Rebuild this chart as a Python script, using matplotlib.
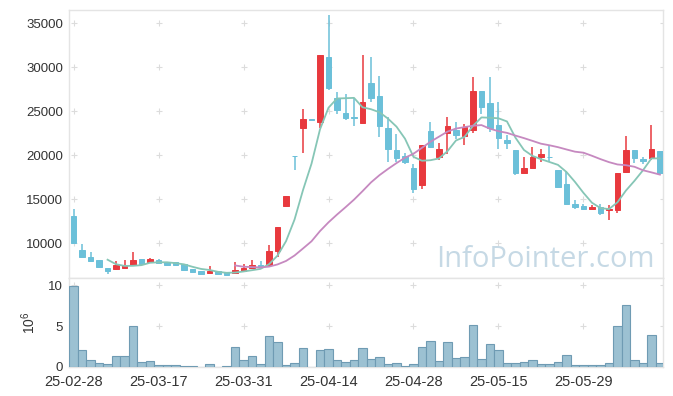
import numpy as np
import pandas as pd
import matplotlib
matplotlib.use("Agg")
import matplotlib.pyplot as plt


# ---------------------------------------------------------------------
# Data (KRW / shares)
# ---------------------------------------------------------------------

dates = [
    "25-02-28", "25-03-04", "25-03-05", "25-03-06", "25-03-07",
    "25-03-10", "25-03-11", "25-03-12", "25-03-13", "25-03-14",
    "25-03-17", "25-03-18", "25-03-19", "25-03-20", "25-03-21",
    "25-03-24", "25-03-25", "25-03-26", "25-03-27", "25-03-28",
    "25-03-31", "25-04-01", "25-04-02", "25-04-03", "25-04-04",
    "25-04-07", "25-04-08", "25-04-09", "25-04-10", "25-04-11",
    "25-04-14", "25-04-15", "25-04-16", "25-04-17", "25-04-18",
    "25-04-21", "25-04-22", "25-04-23", "25-04-24", "25-04-25",
    "25-04-28", "25-04-29", "25-04-30", "25-05-02", "25-05-07",
    "25-05-08", "25-05-09", "25-05-12", "25-05-13", "25-05-14",
    "25-05-15", "25-05-16", "25-05-19", "25-05-20", "25-05-21",
    "25-05-22", "25-05-23", "25-05-26", "25-05-27", "25-05-28",
    "25-05-29", "25-05-30", "25-06-02", "25-06-04", "25-06-05",
    "25-06-09", "25-06-10", "25-06-11", "25-06-12", "25-06-13",
]

open_ = [
    13050, 9200, 8410, 8070, 7130, 7050, 7190, 7500, 8180, 7840,
    8070, 7810, 7840, 7610, 7080, 6850, 6630, 6820, 6710, 6630,
    6820, 7190, 7580, 7500, 9130, 14200, 19900, 23100, 24100, 23800,
    31100, 26450, 24750, 24300, 23650, 28150, 26700, 23050, 20550, 19900,
    18550, 16600, 22750, 19800, 22550, 22850, 22200, 22900, 27250, 25950,
    23400, 21700, 20550, 18030, 18560, 19740, 19780, 18300, 16700, 14510,
    14200, 13900, 14130, 13720, 13750, 18100, 20550, 19550, 19630, 20500,
]
high = [
    13830, 9890, 9010, 8150, 7190, 7960, 8150, 9010, 8240, 8300,
    8200, 7850, 7880, 7650, 7110, 6880, 7390, 6850, 6740, 7810,
    7610, 8150, 7960, 9770, 11820, 15340, 19900, 25300, 24100, 31350,
    35900, 27200, 27000, 26550, 31350, 31100, 28950, 24300, 22400, 20200,
    18950, 21150, 23800, 21350, 24300, 23800, 23500, 28850, 27300, 28850,
    26050, 22250, 20600, 19800, 20950, 20650, 21150, 18300, 18220, 14890,
    14510, 14320, 14510, 14320, 17990, 22150, 20600, 19740, 23400, 20500,
]
low = [
    10050, 8380, 7880, 7190, 6560, 7010, 7160, 7420, 7650, 7800,
    7700, 7420, 7550, 6980, 6750, 6530, 6600, 6530, 6400, 6600,
    6790, 7150, 7280, 7470, 8440, 14200, 18300, 20250, 24050, 23050,
    27400, 24650, 23950, 23300, 23600, 26050, 22100, 19250, 19250, 18950,
    15650, 16200, 20850, 19450, 20100, 21800, 21150, 22550, 24650, 22650,
    20750, 20750, 17800, 18000, 18490, 19240, 19240, 16250, 14400, 13940,
    13750, 13750, 13180, 12610, 13440, 17990, 19060, 18980, 19430, 17950,
]
close = [
    10080, 8440, 7990, 7310, 6820, 7500, 7470, 8070, 7690, 8180,
    7760, 7470, 7580, 7010, 6780, 6560, 6850, 6560, 6440, 6930,
    7160, 7580, 7310, 9090, 11820, 15340, 19850, 24100, 24050, 31350,
    27600, 25100, 24250, 24250, 26000, 26500, 23350, 20650, 19700, 19170,
    16170, 21150, 20950, 20700, 23300, 22250, 23150, 27250, 25500, 23100,
    21950, 21350, 18030, 18520, 19740, 20100, 19740, 16400, 14470, 14130,
    13860, 14130, 13380, 13860, 17990, 20550, 19630, 19350, 20650, 17990,
]

volume = [
    9880000, 2050000, 780000, 410000, 290000, 1270000, 1270000, 5000000, 530000, 660000,
    160000, 160000, 160000, 80000, 80000, 0, 290000, 0, 80000, 2420000,
    780000, 1270000, 290000, 3730000, 2990000, 160000, 410000, 2250000, 0, 2000000,
    2130000, 780000, 550000, 780000, 2300000, 940000, 1190000, 290000, 410000, 80000,
    290000, 2420000, 3110000, 660000, 2990000, 1070000, 1190000, 5080000, 940000, 2750000,
    2000000, 410000, 410000, 530000, 780000, 290000, 290000, 530000, 1390000, 160000,
    160000, 160000, 160000, 410000, 5000000, 7540000, 780000, 410000, 3850000, 410000,
]

price_ticks = [10000, 15000, 20000, 25000, 30000, 35000]
volume_ticks = [0, 5, 10]
date_tick_step = 10


# ---------------------------------------------------------------------
# Style
# ---------------------------------------------------------------------

UP_COLOR = "#e8393e"
DOWN_COLOR = "#6bc0d9"
MA5_COLOR = "#86c6b6"
MA20_COLOR = "#c689c0"
VOL_FILL = "#9cc1d2"
VOL_EDGE = "#6f9bb3"
FRAME_COLOR = "#e4e4e4"
CROSS_COLOR = "#dcdcdc"
TEXT_COLOR = "#333333"

plt.rcParams["font.family"] = ["Liberation Sans", "DejaVu Sans"]
plt.rcParams["mathtext.fontset"] = "custom"
plt.rcParams["mathtext.rm"] = "Liberation Sans"
plt.rcParams["mathtext.it"] = "Liberation Sans"


def style_frame(ax):
    for side in ("top", "bottom", "left", "right"):
        ax.spines[side].set_color(FRAME_COLOR)
        ax.spines[side].set_linewidth(1.0)
    ax.tick_params(length=0, colors=TEXT_COLOR, labelsize=9.5, pad=4.5)


def draw_crosses(ax, xs, ys):
    gx, gy = np.meshgrid(xs, ys)
    ax.plot(gx.ravel(), gy.ravel(), linestyle="none", marker="+",
            markersize=5, markeredgewidth=0.8, color=CROSS_COLOR, zorder=0.5)


# ---------------------------------------------------------------------
# Figure
# ---------------------------------------------------------------------

x = np.arange(len(dates))
xlim = (-0.5, len(dates) - 0.65)
xtick_pos = x[::date_tick_step]

fig = plt.figure(figsize=(6.73, 3.96), dpi=100)
ax = fig.add_axes([0.103, 0.298, 0.882, 0.677])
ax_vol = fig.add_axes([0.103, 0.074, 0.882, 0.224], sharex=ax)

# candles
o = np.array(open_)
c = np.array(close)
up = c >= o
colors = np.where(up, UP_COLOR, DOWN_COLOR)

ax.vlines(x, low, high, colors=colors, linewidth=1.1, zorder=2)
ax.bar(x, c - o, bottom=o, width=0.68, color=colors,
       edgecolor=colors, linewidth=0.7, zorder=3)

# moving averages
closes = pd.Series(close, dtype=float)
ax.plot(x, closes.rolling(5).mean(), color=MA5_COLOR, linewidth=1.3, zorder=4)
ax.plot(x, closes.rolling(20).mean(), color=MA20_COLOR, linewidth=1.3, zorder=4)

ax.set_xlim(*xlim)
ax.set_ylim(6050, 36500)
ax.set_yticks(price_ticks)
ax.set_yticklabels([str(t) for t in price_ticks])
ax.tick_params(axis="x", labelbottom=False)
style_frame(ax)
draw_crosses(ax, list(xtick_pos) + [xlim[1]], price_ticks)

ax.text(0.9865, 0.042, "InfoPointer.com", transform=ax.transAxes,
        ha="right", va="baseline", fontsize=21, color="#c6d9e5",
        family=["Open Sans", "DejaVu Sans"], zorder=1)

# volume
vol_m = np.array(volume) / 1e6
ax_vol.bar(x, vol_m, width=1.0, color=VOL_FILL, edgecolor=VOL_EDGE,
           linewidth=0.8, zorder=3)
ax_vol.set_ylim(0, 10.9)
ax_vol.set_yticks(volume_ticks)
ax_vol.set_xticks(xtick_pos)
ax_vol.set_xticklabels(dates[::date_tick_step])
style_frame(ax_vol)
ax_vol.tick_params(axis="x", labelsize=10.5, pad=6)
ax_vol.set_ylabel(r"$10^{6}$", color=TEXT_COLOR, fontsize=10)
ax_vol.yaxis.set_label_coords(-0.052, 0.5)
draw_crosses(ax_vol, list(xtick_pos) + [xlim[1]], volume_ticks[1:])

fig.savefig("out.png", dpi=100)
